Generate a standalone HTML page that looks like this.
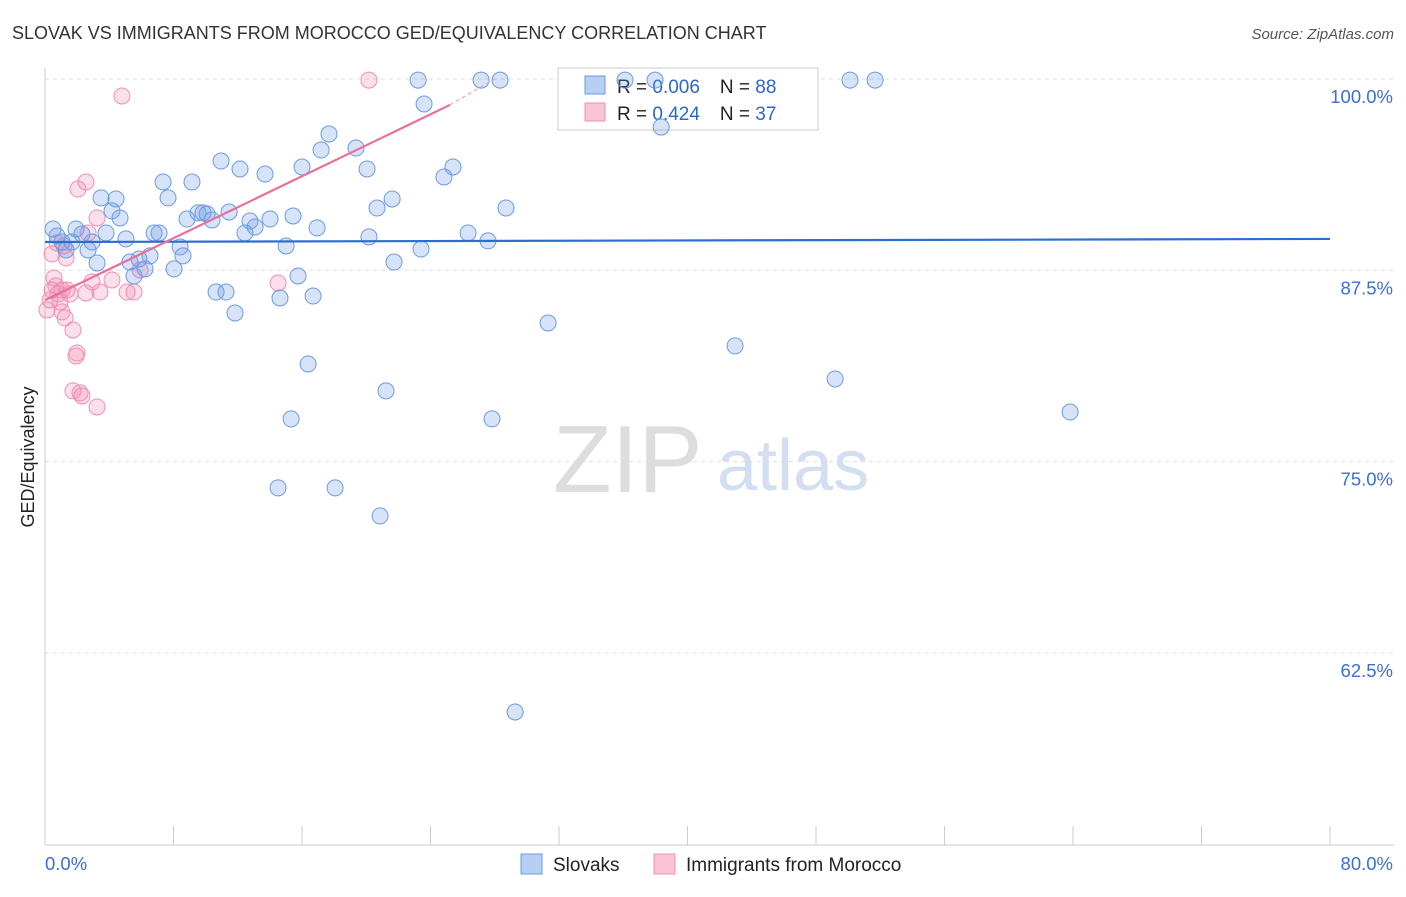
<!DOCTYPE html>
<html><head><meta charset="utf-8"><style>
body{margin:0;background:#fff;font-family:"Liberation Sans",sans-serif}
svg text{font-family:"Liberation Sans",sans-serif}
</style></head><body>
<svg id="c" width="1406" height="892" xmlns="http://www.w3.org/2000/svg">
<text x="12" y="39" font-size="18" fill="#333">SLOVAK VS IMMIGRANTS FROM MOROCCO GED/EQUIVALENCY CORRELATION CHART</text>
<text x="1394" y="39" font-size="15" fill="#555" font-style="italic" text-anchor="end">Source: ZipAtlas.com</text>
<g>
<text x="553" y="492" font-size="96" fill="#ddd" font-family="Liberation Serif,serif">ZIP</text>
<text x="717" y="490" font-size="72" fill="#d2def2">atlas</text>
</g>
<text transform="translate(34,457) rotate(-90)" font-size="18" fill="#222" text-anchor="middle">GED/Equivalency</text>
<g id="grid"></g>
<g>
<rect x="558" y="68" width="260" height="62" fill="#fff" stroke="#ccc"/>
<rect x="585" y="76" width="20" height="18" fill="#b7cff5" stroke="#6b9be0"/>
<rect x="585" y="103" width="20" height="18" fill="#f8c4d6" stroke="#ee8fb0"/>
<text x="617" y="93" font-size="19" fill="#222">R = <tspan fill="#2a66cc">0.006</tspan><tspan dx="20">N = </tspan><tspan fill="#2a66cc">88</tspan></text>
<text x="617" y="120" font-size="19" fill="#222">R = <tspan fill="#2a66cc">0.424</tspan><tspan dx="20">N = </tspan><tspan fill="#2a66cc">37</tspan></text>
</g>
<g id="pts"></g><g id="lines"></g>
<g>
<rect x="521" y="854" width="21" height="20" fill="#b7cff5" stroke="#6b9be0"/>
<text x="553" y="871" font-size="19" fill="#222">Slovaks</text>
<rect x="654" y="854" width="21" height="20" fill="#f8c4d6" stroke="#ee8fb0"/>
<text x="686" y="871" font-size="19" fill="#222">Immigrants from Morocco</text>
</g>
</svg>
<script>
const xTickLabels=["0.0%","80.0%"];
const yTicks=[100,87.5,75,62.5];
const yTickLabels=["100.0%","87.5%","75.0%","62.5%"];
const slovakX=[0.50,0.75,1.06,1.31,1.68,1.93,2.30,2.68,2.93,3.24,3.80,4.17,4.42,4.67,5.04,3.49,5.29,5.54,5.85,6.23,6.54,6.79,7.10,7.35,7.66,8.03,8.41,8.59,8.84,9.15,9.53,9.84,10.09,10.40,10.65,10.96,11.27,11.46,11.83,12.14,12.45,12.76,13.08,13.70,14.01,14.51,14.63,15.01,15.32,15.44,15.75,16.00,16.38,16.69,16.94,17.19,17.68,18.06,19.36,20.05,20.17,20.67,20.86,21.23,21.61,21.73,23.23,23.41,23.60,24.84,25.40,26.34,27.15,27.58,27.83,28.33,28.70,29.27,31.32,36.11,37.98,38.36,42.96,49.19,50.12,51.68,63.82];
const slovakY=[90.20,89.74,89.35,88.83,89.35,90.20,89.87,88.83,89.35,87.98,89.94,91.38,92.16,90.92,89.55,92.23,88.04,87.13,88.24,87.59,88.44,89.94,89.94,93.27,92.23,87.59,89.02,88.44,90.85,93.27,91.25,91.25,91.18,90.79,86.08,94.64,86.08,91.31,84.71,94.12,89.94,90.72,90.33,93.79,90.85,73.28,85.69,89.09,77.79,91.05,87.13,94.25,81.38,85.82,90.27,95.36,96.41,73.28,95.49,94.12,89.68,91.57,71.45,79.62,92.16,88.04,99.93,88.89,98.37,93.60,94.25,89.94,99.93,89.42,77.79,99.93,91.57,58.64,84.06,99.93,99.93,96.86,82.56,80.40,99.93,99.93,78.24];
const moroccoX=[0.12,0.31,0.44,0.56,0.68,0.81,0.93,1.06,1.25,1.18,1.31,1.56,1.74,1.93,1.99,1.74,2.18,2.30,2.05,2.55,2.68,2.55,2.93,3.24,3.24,3.42,4.17,4.79,5.11,5.54,5.92,14.51,20.17,0.44,0.75,1.06,1.37];
const moroccoY=[84.91,85.56,86.21,87.00,86.48,85.95,85.43,84.78,84.39,89.09,88.31,85.95,83.60,81.90,82.10,79.62,79.49,79.29,92.81,93.27,89.94,86.02,86.74,78.57,90.92,86.08,86.87,98.89,86.08,86.08,87.52,86.67,99.93,88.57,89.28,86.21,86.21];
const slovakTrend=[[0,89.35],[80,89.55]];
const moroccoTrend=[[0,85.55],[25.2,98.3],[28,100]];
const X=v=>45+v*(1285/80), Y=v=>79+(100-v)*(191.3/12.5);
const NS="http://www.w3.org/2000/svg";
function mk(tag,parent,at){const e=document.createElementNS(NS,tag);for(const k in at)e.setAttribute(k,at[k]);parent.appendChild(e);return e;}
const grid=document.getElementById('grid'),pts=document.getElementById('pts'),lines=document.getElementById('lines');
yTicks.forEach((t,i)=>{
 const l=mk('line',grid,{x1:45,x2:1394,y1:Y(t),y2:Y(t),stroke:'#ddd','stroke-dasharray':'4,4'});
 
 
 const tx=mk('text',grid,{x:1393,y:Y(t)+24,'font-size':18.5,fill:'#3b6fd0','text-anchor':'end'});
 tx.textContent=yTickLabels[i];
 
 
});
const ax=mk('line',grid,{x1:45,x2:1394,y1:845,y2:845,stroke:'#ccc'});


const ay=mk('line',grid,{x1:45,x2:45,y1:68,y2:845,stroke:'#ccc'});


for(let v=0;v<=80;v+=8){const tk=mk('line',grid,{x1:X(v),x2:X(v),y1:826,y2:845,stroke:'#ccc'});
 
 }
[0,80].forEach((v,i)=>{const tx=mk('text',grid,{x:i?1393:45,y:870,'font-size':18.5,fill:'#3b6fd0','text-anchor':i?'end':'start'});
 tx.textContent=xTickLabels[i];
 
 });
moroccoX.forEach((v,i)=>{const c=mk('circle',pts,{cx:X(v),cy:Y(moroccoY[i]),r:8,fill:'rgba(240,140,180,0.28)',stroke:'#ee8fb0','stroke-width':1});
 
 });
slovakX.forEach((v,i)=>{const c=mk('circle',pts,{cx:X(v),cy:Y(slovakY[i]),r:8,fill:'rgba(110,155,230,0.28)',stroke:'#6b9be0','stroke-width':1});
 
 });
const bl=mk('line',lines,{x1:X(slovakTrend[0][0]),y1:Y(slovakTrend[0][1]),x2:X(slovakTrend[1][0]),y2:Y(slovakTrend[1][1]),stroke:'#2a6fd0','stroke-width':2.2});


const pl=mk('line',lines,{x1:X(moroccoTrend[0][0]),y1:Y(moroccoTrend[0][1]),x2:X(moroccoTrend[1][0]),y2:Y(moroccoTrend[1][1]),stroke:'#e8709a','stroke-width':2.2});


const pd=mk('line',lines,{x1:X(moroccoTrend[1][0]),y1:Y(moroccoTrend[1][1]),x2:X(moroccoTrend[2][0]),y2:Y(moroccoTrend[2][1]),stroke:'#f0a0bc','stroke-width':1.2,'stroke-dasharray':'4,3'});


</script>
</body></html>
